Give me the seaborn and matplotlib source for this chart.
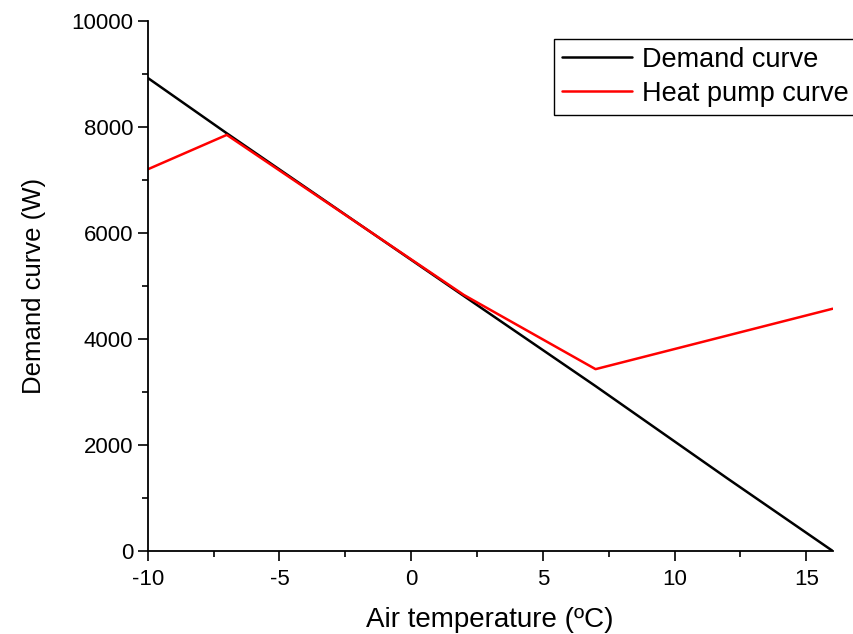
import numpy as np
import pandas as pd
import matplotlib
matplotlib.use("Agg")
import matplotlib.pyplot as plt
from matplotlib.ticker import MultipleLocator
import seaborn as sns

# values
air_temp = [-10, -7, 2, 7, 12, 16]
demand_w = [8925, 7880, 4810, 3110, 1370, 0]

hp_temp = [-10, -7, 2, 7, 16]
heat_pump_w = [7200, 7850, 4830, 3430, 4570]

df = pd.concat(
    [
        pd.DataFrame({"temp": air_temp, "power": demand_w, "curve": "Demand curve"}),
        pd.DataFrame({"temp": hp_temp, "power": heat_pump_w, "curve": "Heat pump curve"}),
    ],
    ignore_index=True,
)

sns.set_style("ticks")
plt.rcParams["font.family"] = ["Liberation Sans", "DejaVu Sans"]
plt.rcParams["axes.unicode_minus"] = False
plt.rcParams["text.color"] = "black"
plt.rcParams["axes.labelcolor"] = "black"

fig = plt.figure(figsize=(8.54, 6.34), dpi=100)
ax = fig.add_axes([0.173, 0.131, 0.802, 0.836])

sns.lineplot(
    data=df, x="temp", y="power", hue="curve",
    palette={"Demand curve": "black", "Heat pump curve": "#ff0000"},
    linewidth=1.8, sort=False, estimator=None, ax=ax,
)

ax.set_xlim(-10, 16)
ax.set_ylim(0, 10000)
ax.xaxis.set_major_locator(MultipleLocator(5))
ax.xaxis.set_minor_locator(MultipleLocator(2.5))
ax.yaxis.set_major_locator(MultipleLocator(2000))
ax.yaxis.set_minor_locator(MultipleLocator(1000))
ax.tick_params(which="major", direction="out", length=7, width=1.2, labelsize=16,
               colors="black", labelcolor="black")
ax.tick_params(which="minor", direction="out", length=4, width=1.2, colors="black")
ax.tick_params(axis="x", pad=6)

sns.despine(ax=ax)
for s in ["left", "bottom"]:
    ax.spines[s].set_linewidth(1.3)
    ax.spines[s].set_color("black")

ax.set_xlabel("Air temperature (ºC)", fontsize=20, labelpad=12, color="black")
ax.set_ylabel("Demand curve (W)", fontsize=18.5, labelpad=18, color="black")

leg = ax.legend(
    loc="upper right", bbox_to_anchor=(1.003, 0.939), bbox_transform=fig.transFigure,
    fontsize=19.5, frameon=True, fancybox=False, edgecolor="black",
    handlelength=2.6, handletextpad=0.35, borderpad=0.3, labelspacing=0.3,
    borderaxespad=0,
)
leg.get_frame().set_linewidth(1.0)
leg.get_frame().set_alpha(1)
for t in leg.get_texts():
    t.set_color("black")

fig.savefig("out.png", dpi=100)
